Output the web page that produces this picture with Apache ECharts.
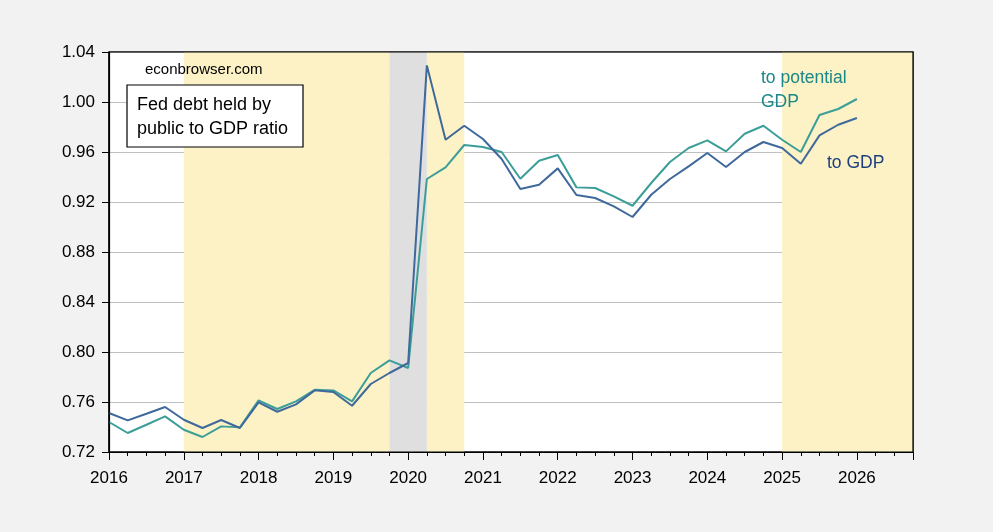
<!DOCTYPE html>
<html>
<head>
<meta charset="utf-8">
<script src="https://cdn.jsdelivr.net/npm/echarts@6/dist/echarts.min.js"></script>
<style>
  html, body { margin: 0; padding: 0; background: #f2f2f2; }
  #chart { width: 993px; height: 532px; }
</style>
</head>
<body>
<div id="chart"></div>
<script>
// quarterly data, 2016Q1 .. 2026Q1
const startYear = 2016
const toGdp = [
  0.7512, 0.7453, 0.7506, 0.7560,
  0.7458, 0.7392, 0.7456, 0.7392,
  0.7597, 0.7522, 0.7581, 0.7693,
  0.7680, 0.7570, 0.7744, 0.7832,
  0.7912, 1.0293, 0.9698, 0.9810,
  0.9704, 0.9544, 0.9304, 0.9338,
  0.9469, 0.9256, 0.9232, 0.9165,
  0.9080, 0.9258, 0.9384, 0.9485,
  0.9592, 0.9480, 0.9600, 0.9680,
  0.9632, 0.9506, 0.9733, 0.9818,
  0.9872
]
const toPotential = [
  0.7440, 0.7352, 0.7418, 0.7485,
  0.7378, 0.7320, 0.7405, 0.7397,
  0.7613, 0.7544, 0.7605, 0.7698,
  0.7693, 0.7605, 0.7832, 0.7933,
  0.7872, 0.9384, 0.9477, 0.9656,
  0.9640, 0.9600, 0.9386, 0.9530,
  0.9576, 0.9317, 0.9312, 0.9245,
  0.9170, 0.9352, 0.9520, 0.9632,
  0.9693, 0.9605, 0.9746, 0.9810,
  0.9698, 0.9600, 0.9896, 0.9944,
  1.0024
]
// shaded periods [from, to]
const yellowSpans = [[2017, 2019.75], [2020.25, 2020.75], [2025, 2026.75]]
const graySpans = [[2019.75, 2020.25]]

const font = 'Liberation Sans, Arial, sans-serif'
const toXY = arr => arr.map((v, i) => [startYear + i / 4, v])

const shade = []
yellowSpans.forEach(s => shade.push([{ xAxis: s[0], itemStyle: { color: '#fcf2c5' } }, { xAxis: s[1] }]))
graySpans.forEach(s => shade.push([{ xAxis: s[0], itemStyle: { color: '#dfdfdf' } }, { xAxis: s[1] }]))

const chart = echarts.init(document.getElementById('chart'))
const baseX = {
  type: 'value', min: 2016, max: 2026.75, position: 'bottom',
  axisLine: { show: true, lineStyle: { color: '#000', width: 1.2 } },
  splitLine: { show: false }
}
chart.setOption({
  backgroundColor: '#f2f2f2',
  animation: false,
  grid: {
    left: 109, right: 80, top: 52, bottom: 80,
    show: true, backgroundColor: '#ffffff',
    borderColor: '#000000', borderWidth: 1.2
  },
  xAxis: [
    Object.assign({}, baseX, {
      interval: 0.25,
      axisTick: { length: 4, lineStyle: { color: '#000' } },
      axisLabel: {
        margin: 18, fontSize: 17, fontFamily: font, color: '#000',
        formatter: v => Number.isInteger(v) ? String(v) : '',
        showMaxLabel: false
      }
    }),
    Object.assign({}, baseX, {
      interval: 1,
      axisTick: { length: 8, lineStyle: { color: '#000' } },
      axisLabel: { show: false }
    })
  ],
  yAxis: {
    type: 'value', min: 0.72, max: 1.04, interval: 0.04,
    axisLine: { show: true, lineStyle: { color: '#000', width: 1.2 } },
    axisTick: { show: true, length: 7, lineStyle: { color: '#000' } },
    axisLabel: {
      margin: 14, fontSize: 17, fontFamily: font, color: '#000',
      formatter: v => v.toFixed(2)
    },
    splitLine: { lineStyle: { color: '#c0c0c0', width: 1 } }
  },
  series: [
    {
      type: 'line', name: 'shade', data: [], silent: true,
      markArea: { silent: true, data: shade }
    },
    {
      type: 'line', name: 'to potential GDP', data: toXY(toPotential),
      showSymbol: false, lineStyle: { color: '#3c9e98', width: 2 }, z: 3
    },
    {
      type: 'line', name: 'to GDP', data: toXY(toGdp),
      showSymbol: false, lineStyle: { color: '#40699b', width: 2 }, z: 4
    }
  ],
  graphic: [
    { type: 'rect', shape: { x: 109, y: 52, width: 804, height: 400 }, z: 20, silent: true,
      style: { fill: 'none', stroke: '#000', lineWidth: 1.2 } },
    { type: 'text', left: 145, top: 62, z: 10,
      style: { text: 'econbrowser.com', fontSize: 15, fontFamily: font, fill: '#000' } },
    { type: 'rect', shape: { x: 127, y: 85, width: 176, height: 62 }, z: 10,
      style: { fill: '#ffffff', stroke: '#000', lineWidth: 1.2 } },
    { type: 'text', left: 137, top: 93, z: 11,
      style: { text: 'Fed debt held by\npublic to GDP ratio', fontSize: 18, lineHeight: 24, fontFamily: font, fill: '#000' } },
    { type: 'text', left: 761, top: 66, z: 10,
      style: { text: 'to potential\nGDP', fontSize: 17.5, lineHeight: 24, fontFamily: font, fill: '#1b8787' } },
    { type: 'text', left: 827, top: 154, z: 10,
      style: { text: 'to GDP', fontSize: 17.5, fontFamily: font, fill: '#1d3f7f' } }
  ]
})
</script>
</body>
</html>
